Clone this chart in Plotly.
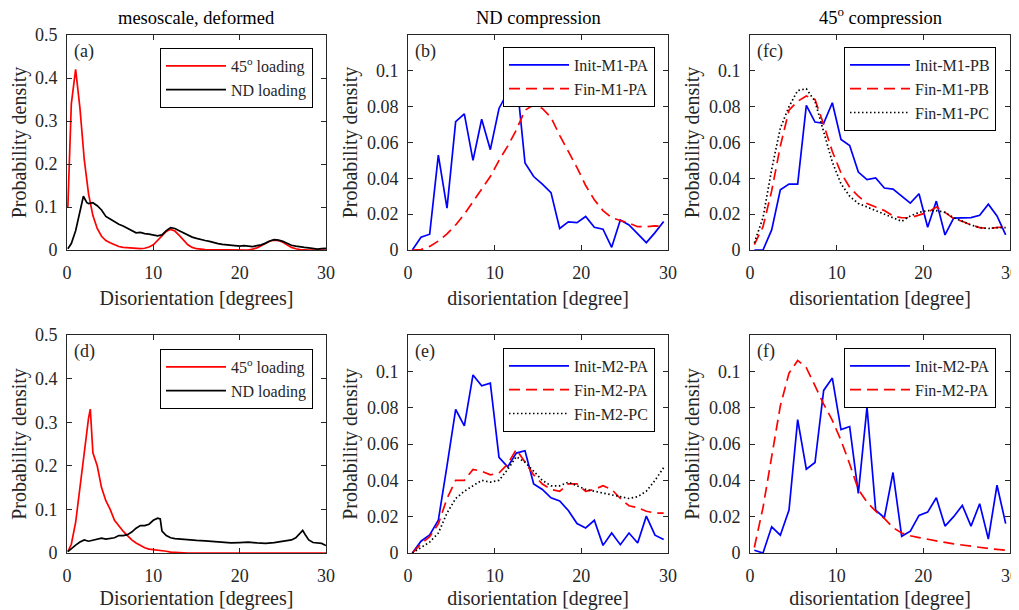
import plotly.graph_objects as go

# ---------------- data ----------------
# panel (a) mesoscale
a_x_red = [0.1, 0.5, 1.0, 1.5, 2.0, 2.5, 3.0, 3.5, 4.0, 4.5, 5.0, 5.5, 6.0, 6.5, 7.0, 7.5, 8.0, 8.5, 9.0, 9.5,
           10.0, 10.5, 11.0, 11.5, 12.0, 12.5, 13.0, 13.5, 14.0, 14.5, 15.0, 16.0, 17.0, 18.0, 19.0, 20.0, 21.0,
           21.5, 22.0, 22.5, 23.0, 23.5, 24.0, 24.5, 25.0, 25.5, 26.0, 26.5, 27.0, 28.0, 29.0, 30.0]
a_red = [0.10, 0.34, 0.42, 0.33, 0.21, 0.13, 0.08, 0.05, 0.032, 0.022, 0.017, 0.012, 0.008, 0.006, 0.005, 0.004,
         0.003, 0.003, 0.004, 0.007, 0.012, 0.022, 0.033, 0.043, 0.048, 0.044, 0.034, 0.022, 0.012, 0.006, 0.003,
         0.001, 0.0005, 0.0, 0.0, 0.0, 0.0, 0.002, 0.005, 0.010, 0.016, 0.021, 0.023, 0.022, 0.018, 0.011, 0.006,
         0.003, 0.001, 0.0, 0.0, 0.0]
a_x_blk = [0.1, 0.5, 1.0, 1.5, 1.9, 2.3, 2.5, 3.0, 3.5, 4.0, 4.5, 5.0, 5.5, 6.0, 6.5, 7.0, 7.5, 8.0, 8.5, 9.0, 9.5,
           10.0, 10.5, 11.0, 11.5, 12.0, 12.5, 13.0, 13.5, 14.0, 14.5, 15.0, 15.5, 16.0, 16.5, 17.0, 17.5, 18.0,
           18.5, 19.0, 19.5, 20.0, 20.5, 21.0, 21.5, 22.0, 22.5, 23.0, 23.5, 24.0, 24.5, 25.0, 25.5, 26.0, 26.5,
           27.0, 27.5, 28.0, 28.5, 29.0, 29.5, 30.0]
a_blk = [0.003, 0.015, 0.045, 0.090, 0.125, 0.110, 0.108, 0.110, 0.103, 0.093, 0.078, 0.072, 0.065, 0.060, 0.056,
         0.050, 0.045, 0.040, 0.041, 0.038, 0.037, 0.035, 0.033, 0.035, 0.045, 0.052, 0.050, 0.045, 0.040, 0.035,
         0.030, 0.027, 0.024, 0.022, 0.020, 0.017, 0.015, 0.013, 0.012, 0.011, 0.010, 0.009, 0.010, 0.009, 0.008,
         0.010, 0.012, 0.016, 0.021, 0.024, 0.023, 0.020, 0.015, 0.011, 0.009, 0.007, 0.006, 0.005, 0.004, 0.002,
         0.003, 0.004]

# panel (d) mesoscale
d_x_red = [0.1, 0.5, 1.0, 1.5, 2.0, 2.5, 2.7, 3.0, 3.5, 4.0, 4.5, 5.0, 5.5, 6.0, 6.5, 7.0, 7.5, 8.0, 8.5, 9.0,
           9.5, 10.0, 10.5, 11.0, 11.5, 12.0, 13.0, 14.0, 20.0, 25.0, 30.0]
d_red = [0.003, 0.02, 0.07, 0.15, 0.24, 0.31, 0.33, 0.23, 0.20, 0.15, 0.12, 0.10, 0.075, 0.062, 0.050, 0.040,
         0.030, 0.023, 0.018, 0.012, 0.009, 0.008, 0.007, 0.006, 0.004, 0.002, 0.001, 0.0, 0.0, 0.0, 0.0]
d_x_blk = [0.1, 0.5, 1.0, 1.5, 2.0, 2.5, 3.0, 3.5, 4.0, 4.5, 5.0, 5.5, 6.0, 6.5, 7.0, 7.5, 8.0, 8.5, 9.0, 9.5,
           10.0, 10.5, 10.8, 11.0, 11.5, 12.0, 12.5, 13.0, 14.0, 15.0, 16.0, 17.0, 18.0, 19.0, 20.0, 21.0, 22.0,
           23.0, 24.0, 25.0, 26.0, 26.5, 27.0, 27.3, 27.6, 28.0, 28.5, 29.0, 29.5, 30.0]
d_blk = [0.003, 0.010, 0.018, 0.025, 0.030, 0.027, 0.029, 0.032, 0.034, 0.032, 0.033, 0.035, 0.040, 0.040, 0.042,
         0.048, 0.057, 0.063, 0.063, 0.066, 0.075, 0.080, 0.078, 0.050, 0.040, 0.035, 0.033, 0.032, 0.031, 0.029,
         0.028, 0.026, 0.024, 0.023, 0.024, 0.025, 0.023, 0.022, 0.024, 0.027, 0.030, 0.035, 0.045, 0.052, 0.042,
         0.030, 0.024, 0.023, 0.022, 0.017]

# bin centres for the M1/M2 panels
bins = [0.5, 1.5, 2.5, 3.5, 4.5, 5.5, 6.5, 7.5, 8.5, 9.5, 10.5, 11.5, 12.5, 13.5, 14.5, 15.5, 16.5, 17.5, 18.5,
        19.5, 20.5, 21.5, 22.5, 23.5, 24.5, 25.5, 26.5, 27.5, 28.5, 29.5]

# panel (b)
b_init = [0.0, 0.0071, 0.0088, 0.053, 0.0234, 0.0716, 0.076, 0.050, 0.073, 0.056, 0.079, 0.088, 0.097, 0.0486,
          0.041, 0.0368, 0.032, 0.012, 0.0157, 0.0153, 0.0187, 0.0127, 0.0116, 0.0015, 0.0168, 0.014, 0.0093,
          0.0041, 0.0097, 0.0159]
b_fin = [0.0, 0.0002, 0.002, 0.005, 0.009, 0.014, 0.020, 0.027, 0.034, 0.041, 0.050, 0.058, 0.067, 0.078, 0.081,
         0.079, 0.074, 0.064, 0.055, 0.046, 0.036, 0.028, 0.022, 0.018, 0.0165, 0.015, 0.013, 0.013, 0.0135, 0.013]

# panel (fc)
c_init = [0.0, 0.0, 0.0112, 0.0336, 0.0368, 0.0368, 0.0807, 0.0714, 0.0707, 0.0822, 0.0617, 0.0583, 0.0435,
          0.0393, 0.0402, 0.0346, 0.034, 0.030, 0.0262, 0.0314, 0.0127, 0.0273, 0.0084, 0.0178, 0.0178, 0.0181,
          0.0194, 0.0256, 0.019, 0.0084]
c_finb = [0.003, 0.013, 0.033, 0.058, 0.078, 0.083, 0.086, 0.084, 0.070, 0.055, 0.043, 0.035, 0.030, 0.026,
          0.024, 0.022, 0.019, 0.018, 0.018, 0.0195, 0.021, 0.024, 0.021, 0.0175, 0.016, 0.014, 0.0125, 0.012,
          0.0125, 0.013]
c_finc = [0.004, 0.018, 0.045, 0.068, 0.080, 0.089, 0.090, 0.083, 0.066, 0.049, 0.037, 0.030, 0.026, 0.024,
          0.022, 0.020, 0.018, 0.016, 0.019, 0.021, 0.022, 0.022, 0.021, 0.018, 0.016, 0.014, 0.0125, 0.012,
          0.0125, 0.0125]

# panel (e)
e_init = [0.0, 0.0065, 0.010, 0.018, 0.048, 0.079, 0.070, 0.098, 0.092, 0.0935, 0.0526, 0.0474, 0.055, 0.0563,
          0.038, 0.035, 0.0304, 0.0286, 0.0234, 0.0162, 0.0138, 0.018, 0.0042, 0.011, 0.0046, 0.011, 0.0055,
          0.0203, 0.0098, 0.0074]
e_fina = [0.0, 0.005, 0.009, 0.016, 0.030, 0.040, 0.040, 0.046, 0.045, 0.043, 0.044, 0.049, 0.057, 0.050, 0.043,
          0.038, 0.035, 0.034, 0.038, 0.038, 0.034, 0.035, 0.037, 0.035, 0.030, 0.026, 0.025, 0.023, 0.022, 0.022]
e_finc = [0.0, 0.003, 0.006, 0.011, 0.022, 0.030, 0.034, 0.037, 0.040, 0.039, 0.040, 0.046, 0.053, 0.050, 0.045,
          0.040, 0.037, 0.037, 0.039, 0.037, 0.035, 0.034, 0.033, 0.032, 0.031, 0.030, 0.031, 0.034, 0.040, 0.047]

# panel (f)
f_init = [0.0015, 0.0, 0.0144, 0.0098, 0.0236, 0.0734, 0.0461, 0.0498, 0.0895, 0.0963, 0.0679, 0.0696, 0.0328,
          0.0803, 0.0236, 0.0194, 0.0443, 0.0092, 0.012, 0.0207, 0.0225, 0.0304, 0.0148, 0.020, 0.0262, 0.0148,
          0.0271, 0.0077, 0.0373, 0.0162]
f_fina = [0.003, 0.025, 0.053, 0.081, 0.099, 0.106, 0.102, 0.092, 0.082, 0.073, 0.062, 0.049, 0.035, 0.028,
          0.023, 0.019, 0.014, 0.011, 0.0095, 0.0085, 0.0075, 0.0065, 0.0058, 0.005, 0.0043, 0.0036, 0.003,
          0.0025, 0.002, 0.0015]

col_titles = ["mesoscale, deformed", "ND compression", "45<sup>o</sup> compression"]
panel_labels = ["(a)", "(b)", "(fc)", "(d)", "(e)", "(f)"]
xtitle_meso = "Disorientation [degrees]"
xtitle_cp = "disorientation [degree]"
ytitle = "Probability density"
meso_yticks = [0, 0.1, 0.2, 0.3, 0.4, 0.5]
cp_yticks = [0, 0.02, 0.04, 0.06, 0.08, 0.1]
xticks = [0, 10, 20, 30]

# ---------------- figure ----------------
OFF = 8                       # page body margin
W, H = 1019 - OFF, 610 - OFF  # figure size inside the page
FONT = "Liberation Serif, Times New Roman, serif"
TXT = "#262626"
fig = go.Figure()

# plot-area positions in page pixels
cols_px = [(67, 326), (408, 668), (750, 1010)]
rows_px = [(35, 250), (335, 553)]


def fx(px):
    return (px - OFF) / W


def fy(py):
    return 1 - (py - OFF) / H


RED, BLUE, BLACK = "#ff0000", "#0000ff", "#000000"
LW = 1.7


def line(x, y, name, color, dash, idx):
    axn = "" if idx == 1 else str(idx)
    fig.add_trace(go.Scatter(x=x, y=y, mode="lines", name=name,
                             line=dict(color=color, width=LW, dash=dash),
                             xaxis="x" + axn, yaxis="y" + axn,
                             legend="legend" + axn))


DASH = "11px,6px"
DOT = "1.5px,2.5px"
line(a_x_red, a_red, "45<sup>o</sup> loading", RED, "solid", 1)
line(a_x_blk, a_blk, "ND loading", BLACK, "solid", 1)
line(bins, b_init, "Init-M1-PA", BLUE, "solid", 2)
line(bins, b_fin, "Fin-M1-PA", RED, DASH, 2)
line(bins, c_init, "Init-M1-PB", BLUE, "solid", 3)
line(bins, c_finb, "Fin-M1-PB", RED, DASH, 3)
line(bins, c_finc, "Fin-M1-PC", BLACK, DOT, 3)
line(d_x_red, d_red, "45<sup>o</sup> loading", RED, "solid", 4)
line(d_x_blk, d_blk, "ND loading", BLACK, "solid", 4)
line(bins, e_init, "Init-M2-PA", BLUE, "solid", 5)
line(bins, e_fina, "Fin-M2-PA", RED, DASH, 5)
line(bins, e_finc, "Fin-M2-PC", BLACK, DOT, 5)
line(bins, f_init, "Init-M2-PA", BLUE, "solid", 6)
line(bins, f_fina, "Fin-M2-PA", RED, DASH, 6)

layout = dict(width=W, height=H, margin=dict(l=0, r=0, t=0, b=0, autoexpand=False),
              paper_bgcolor="white", plot_bgcolor="white",
              font=dict(family=FONT, size=18, color=TXT))

legend_right_top = [(313, 48), (655, 47), (996, 47), (313, 349), (655, 348), (996, 348)]

annotations = []
for i in range(6):
    r, c = divmod(i, 3)
    idx = i + 1
    axn = "" if idx == 1 else str(idx)
    x0, x1 = cols_px[c]
    y0, y1 = rows_px[r]
    meso = (c == 0)
    common = dict(showline=True, linecolor=TXT, linewidth=1, mirror="ticks", ticks="inside",
                  ticklen=5, tickcolor=TXT, showgrid=False, zeroline=False, automargin=False,
                  tickfont=dict(family=FONT, size=18, color=TXT))
    layout["xaxis" + axn] = dict(domain=[fx(x0), fx(x1)], anchor="y" + axn, range=[0, 30],
                                 tickvals=xticks, ticklabelstandoff=6,
                                 title=dict(text=xtitle_meso if meso else xtitle_cp,
                                            font=dict(family=FONT, size=20, color=TXT), standoff=9),
                                 **common)
    layout["yaxis" + axn] = dict(domain=[fy(y1), fy(y0)], anchor="x" + axn,
                                 range=[0, 0.5] if meso else [0, 0.12],
                                 tickvals=meso_yticks if meso else cp_yticks, ticklabelstandoff=5,
                                 title=dict(text=ytitle, font=dict(family=FONT, size=20, color=TXT),
                                            standoff=3),
                                 **common)
    lx, ly = legend_right_top[i]
    layout["legend" + axn] = dict(x=fx(lx), y=fy(ly), xanchor="right", yanchor="top",
                                  xref="paper", yref="paper",
                                  bgcolor="white", bordercolor="#000000", borderwidth=1,
                                  font=dict(family=FONT, size=16, color=TXT),
                                  tracegroupgap=0, itemwidth=60)
    annotations.append(dict(text=panel_labels[i], xref="x" + axn + " domain", yref="y" + axn + " domain",
                            x=0.02, y=0.98, xanchor="left", yanchor="top", showarrow=False,
                            font=dict(family=FONT, size=18, color=TXT)))
    if r == 0:
        annotations.append(dict(text=col_titles[c], xref="paper", yref="paper",
                                x=fx((x0 + x1) / 2), y=fy(30), xanchor="center", yanchor="bottom",
                                showarrow=False, font=dict(family=FONT, size=18.5, color="#000000")))

layout["annotations"] = annotations
fig.update_layout(**layout)
fig.write_html("out.html")
